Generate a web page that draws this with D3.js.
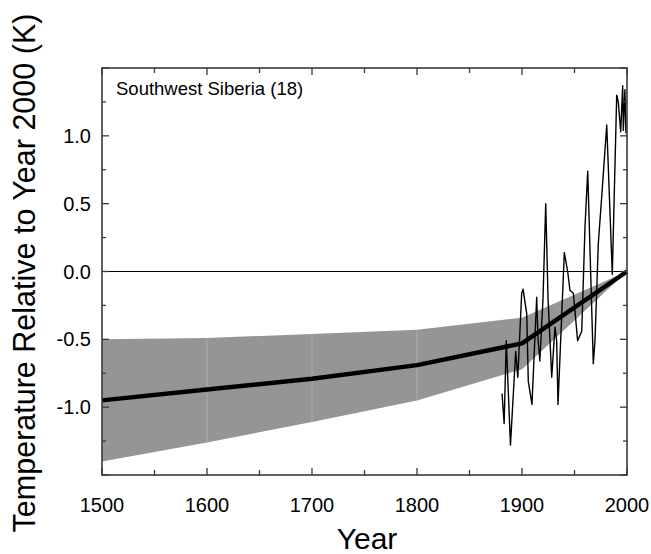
<!DOCTYPE html>
<head>
    <meta charset="utf-8">
    <script src="https://d3js.org/d3.v7.min.js"></script>
    <style>
        body { margin:0; background:#fff; }
        text { font-family: "Liberation Sans", Arial, sans-serif; fill:#000; }
    </style>
</head>
<body>
<div id="chart"></div>
<script>

    // ******************** Data ************************
    var bandYears  = [1500, 1600, 1700, 1800, 1900, 2000];
    var bandUpper  = [-0.50, -0.49, -0.46, -0.43, -0.34, 0.00];
    var bandLower  = [-1.40, -1.26, -1.11, -0.95, -0.72, 0.00];
    var meanValues = [-0.95, -0.87, -0.79, -0.69, -0.53, 0.00];

    // thin annual-ish record
    var recYears  = [1881, 1883, 1885, 1889, 1894, 1896, 1899.7, 1901, 1904.5, 1906, 1909.5,
                     1914, 1915.2, 1917, 1920, 1922.6, 1924.8, 1928.3, 1931.4, 1933, 1934.3,
                     1940.3, 1943.5, 1945.7, 1948.9, 1953, 1956.9, 1960, 1962.6, 1967.9, 1969.5,
                     1972.7, 1975.9, 1980.7, 1986, 1990.2, 1991.7, 1994, 1995.9, 1996.5, 1998, 1999];
    var recValues = [-0.90, -1.12, -0.51, -1.28, -0.59, -0.78, -0.16, -0.13, -0.31, -0.81, -0.98,
                     -0.19, -0.49, -0.66, -0.20, 0.50, -0.20, -0.78, -0.41, -0.51, -0.98,
                     0.14, 0.00, -0.14, -0.16, -0.51, -0.44, 0.33, 0.74, -0.68, -0.51,
                     0.21, 0.55, 1.08, -0.02, 1.30, 1.25, 1.03, 1.37, 1.04, 1.34, 1.02];

    var xTickLabels = [1500, 1600, 1700, 1800, 1900, 2000];
    var yTickLabels = [-1.0, -0.5, 0.0, 0.5, 1.0];

    // ******************** Layout ************************
    var W = 651, H = 554;
    var L = 102, R = 627, T = 68, B = 475;

    var x = d3.scaleLinear().domain([1500, 2000]).range([L, R]);
    var y = d3.scaleLinear().domain([-1.5, 1.5]).range([B, T]);

    var svg = d3.select("#chart").append("svg")
        .attr("width", W)
        .attr("height", H);

    var band = bandYears.map(function (d, i) { return { yr: d, lo: bandLower[i], hi: bandUpper[i], m: meanValues[i] }; });

    // shaded uncertainty band
    svg.append("path")
        .datum(band)
        .attr("d", d3.area()
            .x(function (d) { return x(d.yr); })
            .y0(function (d) { return y(d.lo); })
            .y1(function (d) { return y(d.hi); }))
        .style("fill", "#959595");

    // faint seams between band segments
    svg.selectAll("line.seam")
        .data(band.filter(function (d) { return d.yr > 1500 && d.yr < 1900; }))
        .enter()
        .append("line")
        .attr("class", "seam")
        .attr("x1", function (d) { return x(d.yr); })
        .attr("x2", function (d) { return x(d.yr); })
        .attr("y1", function (d) { return y(d.hi); })
        .attr("y2", function (d) { return y(d.lo); })
        .style("stroke", "#b4b4b4")
        .style("stroke-width", 0.8);

    // zero line
    svg.append("line")
        .attr("x1", L).attr("x2", R)
        .attr("y1", y(0)).attr("y2", y(0))
        .style("stroke", "#000")
        .style("stroke-width", 1.2);

    // thin record
    var rec = recYears.map(function (d, i) { return [x(d), y(recValues[i])]; });
    svg.append("path")
        .attr("d", d3.line()(rec))
        .style("fill", "none")
        .style("stroke", "#000")
        .style("stroke-width", 1.4)
        .style("stroke-linejoin", "round");

    // mean line
    svg.append("path")
        .datum(band)
        .attr("d", d3.line()
            .x(function (d) { return x(d.yr); })
            .y(function (d) { return y(d.m); }))
        .style("fill", "none")
        .style("stroke", "#000")
        .style("stroke-width", 4.5)
        .style("stroke-linejoin", "round");

    // ******************** Axes ************************
    var frameColor = "#3a3a3a";
    var majorX = d3.range(1500, 2001, 100), minorX = d3.range(1550, 2000, 100);
    var majorY = [-1.5, -1.0, -0.5, 0, 0.5, 1.0, 1.5], minorY = [-1.25, -0.75, -0.25, 0.25, 0.75, 1.25];

    function tickSide(vals, len, horizontal) {
        vals.forEach(function (v) {
            if (horizontal) {
                svg.append("line").attr("x1", x(v)).attr("x2", x(v)).attr("y1", B).attr("y2", B - len)
                    .style("stroke", frameColor).style("stroke-width", 1.3);
                svg.append("line").attr("x1", x(v)).attr("x2", x(v)).attr("y1", T).attr("y2", T + len)
                    .style("stroke", frameColor).style("stroke-width", 1.3);
            } else {
                svg.append("line").attr("x1", L).attr("x2", L + len).attr("y1", y(v)).attr("y2", y(v))
                    .style("stroke", frameColor).style("stroke-width", 1.3);
                svg.append("line").attr("x1", R).attr("x2", R - len).attr("y1", y(v)).attr("y2", y(v))
                    .style("stroke", frameColor).style("stroke-width", 1.3);
            }
        });
    }
    tickSide(majorX, 7, true);
    tickSide(minorX, 5, true);
    tickSide(majorY, 7, false);
    tickSide(minorY, 4, false);

    svg.append("rect")
        .attr("x", L).attr("y", T)
        .attr("width", R - L).attr("height", B - T)
        .style("fill", "none")
        .style("stroke", frameColor)
        .style("stroke-width", 1.6);

    // tick labels
    svg.selectAll("text.xl")
        .data(xTickLabels)
        .enter()
        .append("text")
        .attr("class", "xl")
        .attr("x", function (d) { return x(d); })
        .attr("y", 512)
        .attr("text-anchor", "middle")
        .style("font-size", "20px")
        .text(function (d) { return d; });

    svg.selectAll("text.yl")
        .data(yTickLabels)
        .enter()
        .append("text")
        .attr("class", "yl")
        .attr("x", 91)
        .attr("y", function (d) { return y(d) + 7; })
        .attr("text-anchor", "end")
        .style("font-size", "20px")
        .text(function (d) { return d3.format(".1f")(d).replace("\u2212", "-"); });

    // titles
    svg.append("text")
        .attr("x", 367).attr("y", 549)
        .attr("text-anchor", "middle")
        .style("font-size", "30px")
        .text("Year");

    svg.append("text")
        .attr("transform", "translate(35,273) rotate(-90)")
        .attr("text-anchor", "middle")
        .style("font-size", "30.5px")
        .text("Temperature Relative to Year 2000 (K)");

    svg.append("text")
        .attr("x", 116).attr("y", 95)
        .style("font-size", "18.5px")
        .text("Southwest Siberia (18)");

</script>
</body>
